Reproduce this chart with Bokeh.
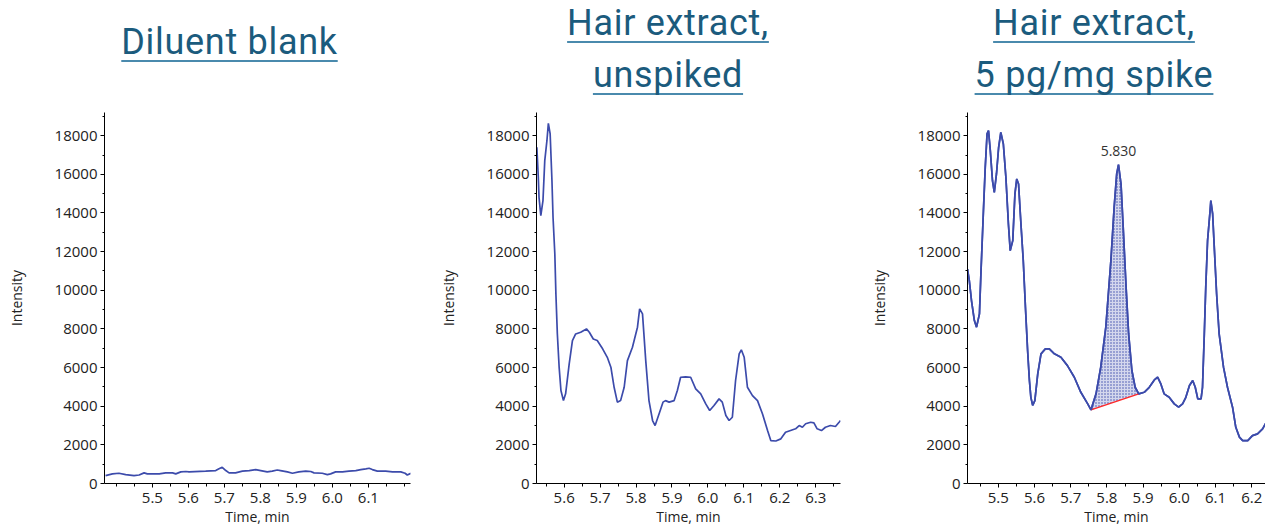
from bokeh.plotting import figure
from bokeh.layouts import row, column
from bokeh.models import Div, FixedTicker, PrintfTickFormatter, Label
from bokeh.embed import file_html
from bokeh.resources import INLINE

# ---------------- data ----------------
panel_titles = [["Diluent blank"], ["Hair extract,", "unspiked"], ["Hair extract,", "5 pg/mg spike"]]

blank_time = [5.370, 5.389, 5.407, 5.426, 5.449, 5.463, 5.477, 5.486, 5.519, 5.537, 5.556, 5.565,
              5.579, 5.593, 5.602, 5.648, 5.676, 5.685, 5.694, 5.704, 5.713, 5.731, 5.750, 5.769,
              5.787, 5.801, 5.819, 5.833, 5.847, 5.856, 5.875, 5.889, 5.907, 5.926, 5.940, 5.949,
              5.972, 5.986, 5.995, 6.009, 6.028, 6.046, 6.065, 6.079, 6.093, 6.102, 6.111, 6.125,
              6.148, 6.167, 6.190, 6.202, 6.208, 6.218]
blank_intensity = [410, 500, 530, 460, 410, 440, 550, 500, 500, 550, 550, 500,
                   600, 620, 600, 640, 670, 760, 840, 670, 550, 550, 640, 670,
                   720, 670, 600, 640, 700, 670, 600, 530, 600, 640, 620, 550,
                   530, 460, 500, 600, 600, 640, 670, 720, 760, 790, 720, 640,
                   640, 600, 600, 530, 440, 530]

unspiked_time = [5.524, 5.528, 5.530, 5.535, 5.541, 5.546, 5.552, 5.556, 5.561, 5.566, 5.569, 5.574,
                 5.577, 5.581, 5.586, 5.591, 5.598, 5.604, 5.614, 5.623, 5.632, 5.646, 5.662, 5.670,
                 5.681, 5.692, 5.707, 5.720, 5.730, 5.739, 5.748, 5.757, 5.767, 5.776, 5.790, 5.804,
                 5.810, 5.818, 5.827, 5.836, 5.846, 5.853, 5.864, 5.875, 5.882, 5.892, 5.906, 5.915,
                 5.924, 5.938, 5.952, 5.966, 5.980, 5.994, 6.005, 6.017, 6.031, 6.040, 6.050, 6.059,
                 6.068, 6.077, 6.087, 6.093, 6.101, 6.110, 6.124, 6.138, 6.152, 6.166, 6.175, 6.189,
                 6.203, 6.216, 6.230, 6.244, 6.254, 6.263, 6.272, 6.286, 6.295, 6.304, 6.316, 6.327,
                 6.341, 6.355, 6.365, 6.369]
unspiked_intensity = [17400, 15850, 14810, 13860, 14640, 16710, 17740, 18640, 18090, 15670, 13780, 11880,
                      9810, 7750, 6020, 4810, 4290, 4640, 6190, 7400, 7740, 7830, 8000, 7830,
                      7480, 7400, 6970, 6530, 6020, 4980, 4210, 4290, 4980, 6360, 7050, 8090,
                      9040, 8780, 6360, 4290, 3260, 3000, 3600, 4210, 4290, 4210, 4290, 4810,
                      5500, 5520, 5500, 4900, 4640, 4120, 3780, 4040, 4380, 4210, 3520, 3260,
                      3430, 5330, 6710, 6920, 6530, 4980, 4550, 4290, 3600, 2740, 2220, 2200,
                      2310, 2650, 2740, 2830, 3000, 2910, 3090, 3170, 3140, 2830, 2740, 2910,
                      3000, 2950, 3170, 3260]

spiked_time = [5.415, 5.420, 5.426, 5.434, 5.440, 5.448, 5.452, 5.459, 5.464, 5.469, 5.473, 5.478,
               5.484, 5.489, 5.495, 5.501, 5.507, 5.514, 5.521, 5.528, 5.533, 5.540, 5.546, 5.551,
               5.556, 5.562, 5.569, 5.575, 5.581, 5.586, 5.590, 5.595, 5.601, 5.609, 5.618, 5.630,
               5.641, 5.655, 5.673, 5.691, 5.710, 5.728, 5.747, 5.756, 5.770, 5.783, 5.797, 5.811,
               5.820, 5.827, 5.832, 5.839, 5.845, 5.853, 5.860, 5.869, 5.878, 5.888, 5.903, 5.917,
               5.931, 5.940, 5.949, 5.958, 5.972, 5.986, 5.998, 6.009, 6.018, 6.028, 6.037, 6.044,
               6.051, 6.060, 6.064, 6.069, 6.073, 6.078, 6.085, 6.087, 6.092, 6.097, 6.103, 6.110,
               6.122, 6.133, 6.147, 6.156, 6.166, 6.175, 6.189, 6.202, 6.216, 6.230, 6.243, 6.259]
spiked_intensity = [11100, 10500, 9470, 8430, 8090, 8780, 10850, 14120, 16360, 18090, 18260, 17230,
                    15670, 15070, 16020, 17400, 18170, 17570, 15850, 13430, 12050, 12570, 14990, 15760,
                    15500, 13610, 11540, 9120, 6880, 5330, 4460, 4040, 4290, 5670, 6710, 6970,
                    6970, 6710, 6530, 6100, 5500, 4720, 4120, 3810, 4640, 6020, 8090, 11540,
                    14290, 16020, 16500, 15500, 13260, 10160, 7740, 5850, 4980, 4640, 4720, 4980,
                    5360, 5500, 5150, 4640, 4460, 4120, 3950, 4120, 4460, 5070, 5330, 4980,
                    4380, 4380, 4980, 7740, 10160, 12570, 14120, 14640, 13950, 12050, 9810, 7740,
                    6020, 4980, 3950, 2910, 2400, 2220, 2220, 2480, 2570, 2830, 3260, 3340]

peak_start = 5.756
peak_end = 5.888
peak_rt_label = "5.830"
peak_rt = 5.832

x_ranges = [(5.367, 6.217), (5.523, 6.369), (5.415, 6.238)]
x_major = [[5.5, 5.6, 5.7, 5.8, 5.9, 6.0, 6.1],
           [5.6, 5.7, 5.8, 5.9, 6.0, 6.1, 6.2, 6.3],
           [5.5, 5.6, 5.7, 5.8, 5.9, 6.0, 6.1, 6.2]]
x_minor = [[5.4, 5.45, 5.55, 5.65, 5.75, 5.85, 5.95, 6.05, 6.15, 6.2],
           [5.55, 5.65, 5.75, 5.85, 5.95, 6.05, 6.15, 6.25, 6.35],
           [5.45, 5.55, 5.65, 5.75, 5.85, 5.95, 6.05, 6.15]]
y_major = [0, 2000, 4000, 6000, 8000, 10000, 12000, 14000, 16000, 18000]
y_minor = [1000, 3000, 5000, 7000, 9000, 11000, 13000, 15000, 17000, 19000]

LINE = "#3c4bab"
TICK_FONT = "Open Sans"


def make_panel(t, v, xr, xmaj, xmin, frame_w, border_l, border_r):
    p = figure(frame_width=frame_w, frame_height=371, x_range=xr, y_range=(0, 19200),
               output_backend="svg", toolbar_location=None,
               min_border_left=border_l, min_border_right=border_r,
               min_border_top=8, min_border_bottom=38)
    p.outline_line_color = None
    p.xgrid.visible = False
    p.ygrid.visible = False
    p.background_fill_color = "white"
    p.border_fill_color = "white"

    p.xaxis.ticker = FixedTicker(ticks=xmaj, minor_ticks=xmin)
    p.yaxis.ticker = FixedTicker(ticks=y_major, minor_ticks=y_minor)
    p.xaxis.formatter = PrintfTickFormatter(format="%.1f")
    for ax in (p.xaxis[0], p.yaxis[0]):
        ax.axis_line_color = "black"
        ax.axis_line_width = 1
        ax.major_tick_line_color = "black"
        ax.minor_tick_line_color = "black"
        ax.major_tick_in = 0
        ax.minor_tick_in = 0
        ax.major_tick_out = 4
        ax.major_label_text_font = TICK_FONT
        ax.major_label_text_font_size = "15px"
        ax.major_label_text_color = "#222222"
        ax.axis_label_text_font = TICK_FONT
        ax.axis_label_text_font_size = "14px"
        ax.axis_label_text_font_style = "normal"
        ax.axis_label_text_color = "#222222"
    p.xaxis.minor_tick_out = 3
    p.yaxis.minor_tick_out = 2
    p.yaxis.axis_label = "Intensity"
    p.xaxis.axis_label = "Time, min"
    p.yaxis.axis_label_standoff = 26
    p.yaxis.major_label_standoff = 3
    p.xaxis.major_label_standoff = 5
    p.xaxis.axis_label_standoff = 1

    p.line(t, v, line_color=LINE, line_width=1.7)
    return p


p1 = make_panel(blank_time, blank_intensity, x_ranges[0], x_major[0], x_minor[0], 306, 104, 20)
p2 = make_panel(unspiked_time, unspiked_intensity, x_ranges[1], x_major[1], x_minor[1], 304, 106, 20)
p3 = make_panel(spiked_time, spiked_intensity, x_ranges[2], x_major[2], x_minor[2], 298, 107, 0)

# integrated peak (hatched area between trace and straight baseline)
pk_t = [t for t in spiked_time if peak_start <= t <= peak_end]
pk_v = [v for t, v in zip(spiked_time, spiked_intensity) if peak_start <= t <= peak_end]
p3.patch(pk_t, pk_v, fill_color=LINE, fill_alpha=0.22, line_alpha=0,
         hatch_pattern="dot", hatch_color=LINE, hatch_scale=3, hatch_weight=1.8, hatch_alpha=1.0)
p3.line([pk_t[0], pk_t[-1]], [pk_v[0], pk_v[-1]], line_color="#ff2a2a", line_width=1.5)
p3.line(spiked_time, spiked_intensity, line_color=LINE, line_width=1.7)
p3.add_layout(Label(x=peak_rt, y=16950, text=peak_rt_label, text_align="center",
                    text_baseline="bottom", text_font=TICK_FONT, text_font_size="14px",
                    text_color="#333333"))

# ---------------- titles ----------------
TITLE_COLOR = "#1b5b7d"
UL_COLOR = "#4a8aad"


def title_line(text, cx, top):
    return (f'<div style="position:absolute;left:{cx - 200}px;top:{top}px;width:400px;'
            f'text-align:center;font-family:Roboto;font-size:36px;line-height:36px;'
            f'letter-spacing:0.7px;color:{TITLE_COLOR};white-space:nowrap;">'
            f'<span style="text-decoration:underline;text-decoration-color:{UL_COLOR};'
            f'text-decoration-thickness:2px;text-underline-offset:5.5px;'
            f'text-decoration-skip-ink:none;">{text}</span></div>')


centers = [224.5, 663, 1089]
html = '<div style="position:relative;width:1265px;height:94px;">'
html += title_line(panel_titles[0][0], centers[0], 19)
html += title_line(panel_titles[1][0], centers[1], 0)
html += title_line(panel_titles[1][1], centers[1], 52)
html += title_line(panel_titles[2][0], centers[2], 0)
html += title_line(panel_titles[2][1], centers[2], 52)
html += '</div>'
header = Div(text=html, width=1265, height=94)

layout = column(header, row(p1, p2, p3))
open("out.html", "w").write(file_html(layout, INLINE))
